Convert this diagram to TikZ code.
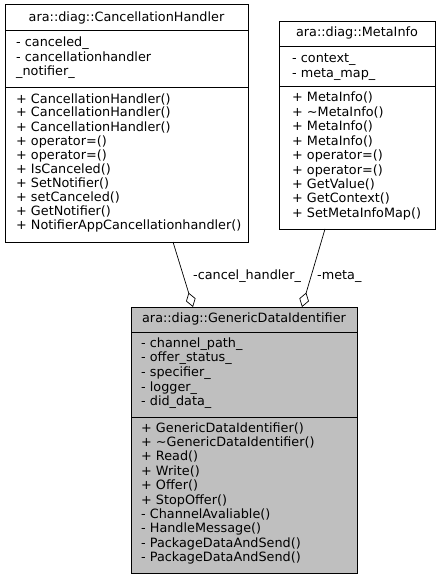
\documentclass[tikz,border=0pt]{standalone}
\usepackage{fontspec}
\setmainfont{DejaVu Sans}
\usetikzlibrary{arrows.meta,calc}
\definecolor{boxgray}{HTML}{BFBFBF}
\begin{document}
\begin{tikzpicture}[x=1pt,y=-1pt,
  umlbox/.style={draw=black,line width=0.9pt,inner sep=0pt,anchor=north west},
  umltext/.style={inner sep=0pt,anchor=base west,align=left,font=\fontsize{12.8}{14.2}\selectfont},
  umltitle/.style={inner sep=0pt,anchor=base,font=\fontsize{12.8}{14.2}\selectfont},
  divider/.style={line width=0.9pt},
  assoc/.style={line width=0.7pt,-{Diamond[open,length=15pt,width=10pt,line width=0.7pt]}},
  lbl/.style={inner sep=0pt,anchor=base west,font=\fontsize{12.8}{14.2}\selectfont}]
\useasboundingbox (0,0) rectangle (440,580);
\fill[white] (0,0) rectangle (440,580);
% CancellationHandler
\node[umlbox,minimum width=243pt,minimum height=238pt] (ch) at (5,4) {};
\draw[divider] (5,30) -- (248,30);
\draw[divider] (5,87) -- (248,87);
\node[umltitle] (cht) at (126.5,22) {ara::diag::CancellationHandler};
\node[umltext] (cha) at (16,75.4) {- canceled\_\\- cancellationhandler\\\_notifier\_};
\node[umltext,font=\fontsize{12.8}{14.0}\selectfont] (chm) at (16,229) {+ CancellationHandler()\\+ CancellationHandler()\\+ CancellationHandler()\\+ operator=()\\+ operator=()\\+ IsCanceled()\\+ SetNotifier()\\+ setCanceled()\\+ GetNotifier()\\+ NotifierAppCancellationhandler()};
% MetaInfo
\node[umlbox,minimum width=156pt,minimum height=208pt] (mi) at (279,21) {};
\draw[divider] (279,46) -- (435,46);
\draw[divider] (279,86) -- (435,86);
\node[umltitle] (mit) at (357,37) {ara::diag::MetaInfo};
\node[umltext] (mia) at (292,77.2) {- context\_\\- meta\_map\_};
\node[umltext,font=\fontsize{12.8}{14.4}\selectfont] (mim) at (292,217.2) {+ MetaInfo()\\+ \textasciitilde MetaInfo()\\+ MetaInfo()\\+ MetaInfo()\\+ operator=()\\+ operator=()\\+ GetValue()\\+ GetContext()\\+ SetMetaInfoMap()};
% GenericDataIdentifier
\node[umlbox,fill=boxgray,minimum width=226pt,minimum height=266pt] (gd) at (131,307) {};
\draw[divider] (131,332) -- (357,332);
\draw[divider] (131,417) -- (357,417);
\node[umltitle] (gdt) at (244,322) {ara::diag::GenericDataIdentifier};
\node[umltext,font=\fontsize{12.8}{14.7}\selectfont] (gda) at (141,405.8) {- channel\_path\_\\- offer\_status\_\\- specifier\_\\- logger\_\\- did\_data\_};
\node[umltext,font=\fontsize{12.8}{14.4}\selectfont] (gdm) at (141,561.6) {+ GenericDataIdentifier()\\+ \textasciitilde GenericDataIdentifier()\\+ Read()\\+ Write()\\+ Offer()\\+ StopOffer()\\- ChannelAvaliable()\\- HandleMessage()\\- PackageDataAndSend()\\- PackageDataAndSend()};
% connectors
\coordinate (c1s) at (173,242);
\coordinate (c1e) at (193,307);
\coordinate (c2s) at (325,229);
\coordinate (c2e) at (302,307);
\draw[assoc] (c1s) -- (c1e);
\draw[assoc] (c2s) -- (c2e);
\node[lbl] (l1) at (193,279) {-cancel\_handler\_};
\node[lbl] (l2) at (317,279) {-meta\_};
\end{tikzpicture}
\end{document}
